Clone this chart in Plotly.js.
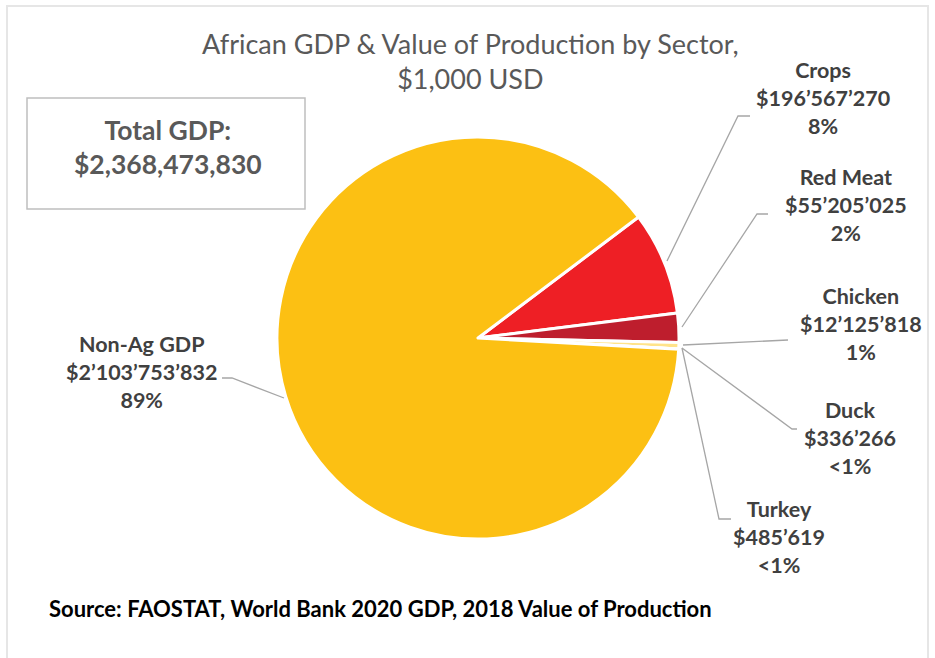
<!DOCTYPE html>
<html>
<head>
<meta charset="utf-8">
<script src="https://cdn.plot.ly/plotly-3.0.1.min.js"></script>
<style>html,body{margin:0;padding:0;background:#fff;}#chart{width:935px;height:658px;}</style>
</head>
<body>
<div id="chart"></div>
<script>
// ---- data ----
const sectors = ["Crops", "Red Meat", "Chicken", "Duck", "Turkey", "Non-Ag GDP"];
const values = [196567270, 55205025, 12125818, 336266, 485619, 2103753832];
const valueLabels = ["$196’567’270", "$55’205’025", "$12’125’818", "$336’266", "$485’619", "$2’103’753’832"];
const pctLabels = ["8%", "2%", "1%", "<1%", "<1%", "89%"];
const sliceColors = ["#EE1F25", "#BE1E2D", "#FFE38A", "#FFD24D", "#FFD966", "#FCC013"];
const totalGDP = "$2,368,473,830";

const W = 935, H = 658;
const px = x => x / W;
const py = y => 1 - y / H;

// label centres (pixel) and leader paths (pixel)
const labelPos = [[823, 98], [846, 205], [861, 324], [850, 438], [779, 537], [141, 372]];
const leaders = [
  [[750,116],[738,116],[667,261]],
  [[768,214],[757,214],[682,327]],
  [[788,340],[683,345]],
  [[797,429],[792,429],[682,348]],
  [[731,519],[719,519],[682,348]],
  [[222,378],[232,378],[284,398]]
];

const labelFont = {family: "Lato, 'Open Sans', sans-serif", size: 21.5, color: "#404040"};

const annotations = [
  {text: "African GDP & Value of Production by Sector,<br>$1,000 USD", x: px(470), y: py(61),
   xref: "paper", yref: "paper", showarrow: false, xanchor: "center", yanchor: "middle",
   font: {family: "Lato, 'Open Sans', sans-serif", size: 27, color: "#595959"}},
  {text: "<b>Total GDP:</b><br><b>" + totalGDP + "</b>", x: px(168), y: py(147),
   xref: "paper", yref: "paper", showarrow: false, xanchor: "center", yanchor: "middle",
   font: {family: "Lato, 'Open Sans', sans-serif", size: 26.5, color: "#595959"}},
  {text: "<b>Source: FAOSTAT, World Bank 2020 GDP, 2018 Value of Production</b>", x: px(47), y: py(608),
   xref: "paper", yref: "paper", showarrow: false, xanchor: "left", yanchor: "middle",
   font: {family: "Lato, 'Open Sans', sans-serif", size: 22, color: "#000000"}}
];
sectors.forEach((s, i) => {
  annotations.push({
    text: "<b>" + s + "</b><br><b>" + valueLabels[i] + "</b><br><b>" + pctLabels[i] + "</b>",
    x: px(labelPos[i][0]), y: py(labelPos[i][1]), xref: "paper", yref: "paper",
    showarrow: false, xanchor: "center", yanchor: "middle", font: labelFont
  });
});

const shapes = [
  {type: "rect", xref: "paper", yref: "paper", x0: px(7), x1: px(928), y0: py(6), y1: py(700),
   line: {color: "#E6E6E6", width: 2}, fillcolor: "rgba(0,0,0,0)"},
  {type: "rect", xref: "paper", yref: "paper", x0: px(27), x1: px(305), y0: py(98), y1: py(209),
   line: {color: "#BFBFBF", width: 1.5}, fillcolor: "rgba(0,0,0,0)"}
];
leaders.forEach(pts => {
  const d = pts.map((p, j) => (j ? "L" : "M") + px(p[0]).toFixed(5) + "," + py(p[1]).toFixed(5)).join(" ");
  shapes.push({type: "path", xref: "paper", yref: "paper", path: d, line: {color: "#A6A6A6", width: 1.3}});
});

const trace = {
  type: "pie",
  labels: sectors,
  values: values,
  sort: false,
  direction: "clockwise",
  rotation: 53,
  textinfo: "none",
  hoverinfo: "none",
  marker: {colors: sliceColors, line: {color: "#FFFFFF", width: 3}},
  domain: {x: [277 / W, 679 / W], y: [1 - 539 / H, 1 - 137 / H]}
};

Plotly.newPlot("chart", [trace], {
  width: W, height: H,
  margin: {l: 0, r: 0, t: 0, b: 0},
  showlegend: false,
  paper_bgcolor: "#FFFFFF",
  annotations: annotations,
  shapes: shapes
}, {displayModeBar: false, staticPlot: true});
</script>
</body>
</html>
